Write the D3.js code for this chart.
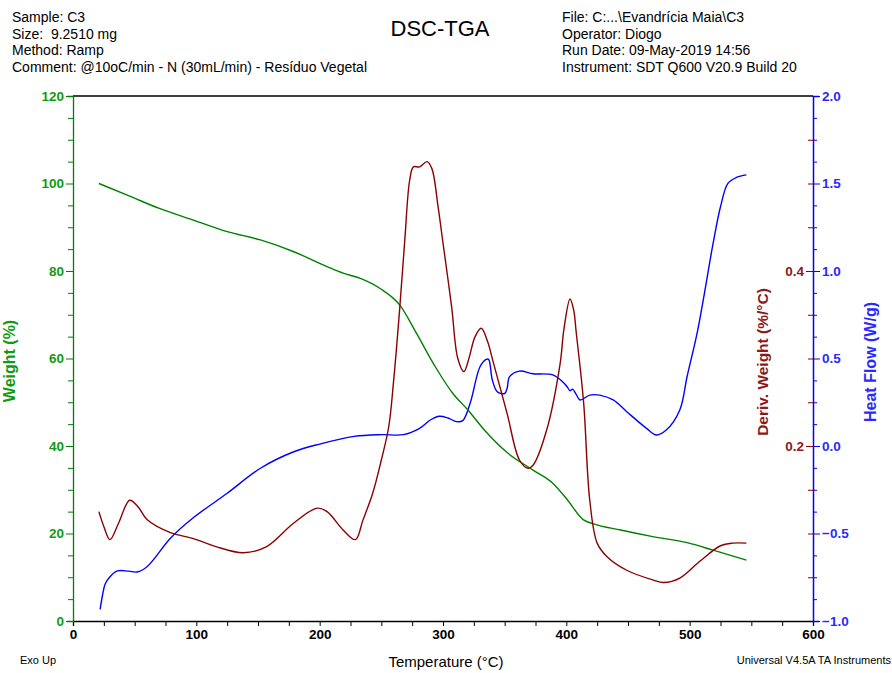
<!DOCTYPE html>
<html>
<head>
<meta charset="utf-8">
<script src="https://cdn.jsdelivr.net/npm/d3@7"></script>
<style>
  body { margin: 0; background: #fff; }
  svg { display: block; font-family: "Liberation Sans", Arial, sans-serif; }
  text { white-space: pre; }
</style>
</head>
<body>
<svg id="chart" width="892" height="673"></svg>
<script>
// ---- Data: TGA weight, derivative weight and DSC heat flow vs temperature ----
const weightTemp = [21, 46, 70, 97, 125, 152, 179, 206, 219, 233, 249, 265, 279, 294, 308, 320, 335, 352, 373, 389, 400, 414, 422, 444, 470, 498, 519, 546];
const weightPct  = [100, 97.1, 94.3, 91.7, 89.0, 87.1, 84.4, 81.0, 79.5, 78.3, 76.0, 72.2, 65.5, 58.0, 52.0, 48.3, 43.2, 38.5, 34.5, 31.5, 28.0, 23.1, 22.2, 20.8, 19.3, 17.9, 16.2, 13.9];

const derivTemp = [21, 25, 30, 37, 46, 53, 60, 79, 97, 116, 138, 157, 179, 198, 206, 219, 229, 235, 243, 250, 256, 260, 265, 269, 273, 276, 281, 287, 291, 296, 300, 307, 312, 317, 321, 326, 331, 336, 341, 352, 362, 369, 373, 384, 395, 398, 403, 406, 408, 414, 419, 425, 433, 449, 470, 479, 492, 508, 525, 535, 546];
const derivVal  = [0.125, 0.108, 0.093, 0.112, 0.138, 0.130, 0.116, 0.101, 0.0945, 0.085, 0.078, 0.085, 0.112, 0.129, 0.125, 0.104, 0.093, 0.115, 0.146, 0.184, 0.222, 0.275, 0.359, 0.435, 0.504, 0.519, 0.519, 0.525, 0.517, 0.4735, 0.432, 0.359, 0.300, 0.285, 0.300, 0.325, 0.3345, 0.320, 0.2945, 0.237, 0.184, 0.1745, 0.178, 0.218, 0.2945, 0.333, 0.368, 0.355, 0.330, 0.250, 0.138, 0.089, 0.0735, 0.058, 0.047, 0.044, 0.049, 0.068, 0.086, 0.089, 0.089];

const heatTemp = [22, 24, 26, 30, 36, 45, 52, 60, 79, 97, 125, 152, 179, 200, 228, 250, 268, 281, 290, 297, 304, 311, 316, 322, 330, 335, 337, 340, 344, 350, 352, 354, 362, 373, 389, 398, 401, 403, 405, 408, 411, 419, 427, 438, 449, 465, 473, 481, 492, 498, 506, 511, 519, 525, 531, 538, 546];
const heatVal  = [-0.933, -0.85, -0.79, -0.747, -0.714, -0.715, -0.72, -0.69, -0.527, -0.413, -0.27, -0.127, -0.033, 0.011, 0.055, 0.065, 0.065, 0.101, 0.150, 0.170, 0.160, 0.139, 0.145, 0.244, 0.453, 0.495, 0.495, 0.377, 0.310, 0.300, 0.330, 0.396, 0.428, 0.413, 0.406, 0.360, 0.335, 0.315, 0.325, 0.295, 0.263, 0.291, 0.291, 0.263, 0.196, 0.101, 0.063, 0.091, 0.206, 0.400, 0.644, 0.834, 1.158, 1.367, 1.501, 1.535, 1.549];

// ---- Axis tick values ----
const tempTicks   = d3.range(0, 601, 25);
const weightTicks = d3.range(0, 121, 5);
const derivTicks  = d3.range(1, 12).map(i => +(i * 0.05).toFixed(2));
const heatTicks   = d3.range(0, 25).map(i => +(-1 + i * 0.125).toFixed(3));

// ---- Header text ----
const headerLeft  = ["Sample: C3", "Size:  9.2510 mg", "Method: Ramp", "Comment: @10oC/min - N (30mL/min) - Resíduo Vegetal"];
const headerRight = ["File: C:...\\Evandrícia Maia\\C3", "Operator: Diogo", "Run Date: 09-May-2019 14:56", "Instrument: SDT Q600 V20.9 Build 20"];

const GREEN = "#008000", RED = "#8b0000", BLUE = "#0000ff";
const GREEN_TXT = "#129a12", RED_TXT = "#8b1a1a", BLUE_TXT = "#2a2aff";
const FONT = "Liberation Sans, Arial, sans-serif";

const svg = d3.select("#chart");
const L = 73, R = 813, T = 96, B = 621;

const x  = d3.scaleLinear().domain([0, 600]).range([L, R]);
const yW = d3.scaleLinear().domain([0, 120]).range([B, T]);
const yD = d3.scaleLinear().domain([0, 0.6]).range([B, T]);
const yH = d3.scaleLinear().domain([-1, 2]).range([B, T]);

// header block
const hdr = svg.append("g").attr("font-size", 14).attr("fill", "#000");
headerLeft.forEach((s, i) => hdr.append("text").attr("x", 12).attr("y", 22 + i * 16.7).text(s));
headerRight.forEach((s, i) => hdr.append("text").attr("x", 562).attr("y", 22 + i * 16.7).text(s));
svg.append("text").attr("x", 440).attr("y", 36).attr("text-anchor", "middle")
  .attr("font-size", 22).text("DSC-TGA");

// top frame line
svg.append("line").attr("x1", L).attr("x2", R).attr("y1", T).attr("y2", T)
  .attr("stroke", "#000").attr("stroke-width", 1.3);

// bottom temperature axis
const gx = svg.append("g").attr("transform", `translate(0,${B})`)
  .call(d3.axisBottom(x).tickValues(tempTicks).tickSize(5).tickPadding(3)
    .tickFormat(d => d % 100 === 0 ? d : ""));
gx.select(".domain").attr("stroke", "#000").attr("stroke-width", 1.3);
gx.selectAll(".tick line").attr("stroke", "#000");
gx.selectAll(".tick text").attr("font-size", 13.5).attr("font-weight", "bold")
  .attr("fill", "#000").attr("font-family", FONT);

// left weight axis
const gw = svg.append("g").attr("transform", `translate(${L},0)`)
  .call(d3.axisLeft(yW).tickValues(weightTicks).tickPadding(3)
    .tickFormat(d => d % 20 === 0 ? d : ""));
gw.select(".domain").attr("stroke", GREEN).attr("stroke-width", 1.3);
gw.selectAll(".tick line").attr("stroke", GREEN).attr("x2", d => d % 20 === 0 ? -7 : -5);
gw.selectAll(".tick text").attr("x", -9).attr("font-size", 13.5).attr("font-weight", "bold")
  .attr("fill", GREEN_TXT).attr("font-family", FONT);

// right heat flow axis
const isHeatMajor = d => Math.abs(d * 2 - Math.round(d * 2)) < 1e-6;
const gh = svg.append("g").attr("transform", `translate(${R},0)`)
  .call(d3.axisRight(yH).tickValues(heatTicks).tickPadding(3)
    .tickFormat(d => isHeatMajor(d) ? d3.format(".1f")(d) : ""));
gh.select(".domain").attr("stroke", BLUE).attr("stroke-width", 1.5);
gh.selectAll(".tick line").attr("stroke", BLUE).attr("x2", d => isHeatMajor(d) ? 7 : 4);
gh.selectAll(".tick text").attr("x", 9).attr("font-size", 13.5).attr("font-weight", "bold")
  .attr("fill", BLUE_TXT).attr("font-family", FONT);

// derivative weight axis, drawn on the inner side of the right edge
const isDerivLabel = d => Math.abs(d - 0.2) < 1e-6 || Math.abs(d - 0.4) < 1e-6;
const gd = svg.append("g").attr("transform", `translate(${R},0)`)
  .call(d3.axisLeft(yD).tickValues(derivTicks).tickPadding(3)
    .tickFormat(d => isDerivLabel(d) ? d3.format(".1f")(d) : ""));
gd.select(".domain").remove();
gd.selectAll(".tick line").attr("stroke", RED).attr("x2", d => isDerivLabel(d) ? -7 : -5);
gd.selectAll(".tick text").attr("x", -9).attr("font-size", 13.5).attr("font-weight", "bold")
  .attr("fill", RED_TXT).attr("font-family", FONT);

// curves
const line = (xs, ys, yScale, curve) => d3.line()
  .x(i => x(xs[i])).y(i => yScale(ys[i])).curve(curve)(d3.range(xs.length));

const plot = svg.append("g").attr("fill", "none").attr("stroke-width", 1.4)
  .attr("stroke-linejoin", "round");
plot.append("path").attr("stroke", BLUE)
  .attr("d", line(heatTemp, heatVal, yH, d3.curveCatmullRom.alpha(0.5)));
plot.append("path").attr("stroke", GREEN)
  .attr("d", line(weightTemp, weightPct, yW, d3.curveMonotoneX));
plot.append("path").attr("stroke", RED)
  .attr("d", line(derivTemp, derivVal, yD, d3.curveCatmullRom.alpha(0.5)));

// axis titles
svg.append("text").attr("transform", "translate(15,361) rotate(-90)").attr("text-anchor", "middle")
  .attr("font-size", 16).attr("font-weight", "bold").attr("fill", GREEN_TXT).text("Weight (%)");
svg.append("text").attr("transform", "translate(768,362) rotate(-90)").attr("text-anchor", "middle")
  .attr("font-size", 15.5).attr("font-weight", "bold").attr("fill", RED_TXT).text("Deriv. Weight (%/°C)");
svg.append("text").attr("transform", "translate(876,362) rotate(-90)").attr("text-anchor", "middle")
  .attr("font-size", 16).attr("font-weight", "bold").attr("fill", BLUE_TXT).text("Heat Flow (W/g)");

svg.append("text").attr("x", 446).attr("y", 667).attr("text-anchor", "middle")
  .attr("font-size", 15).text("Temperature (°C)");
svg.append("text").attr("x", 20).attr("y", 664).attr("font-size", 11).text("Exo Up");
svg.append("text").attr("x", 891).attr("y", 664).attr("text-anchor", "end")
  .attr("font-size", 11).text("Universal V4.5A TA Instruments");
</script>
</body>
</html>
